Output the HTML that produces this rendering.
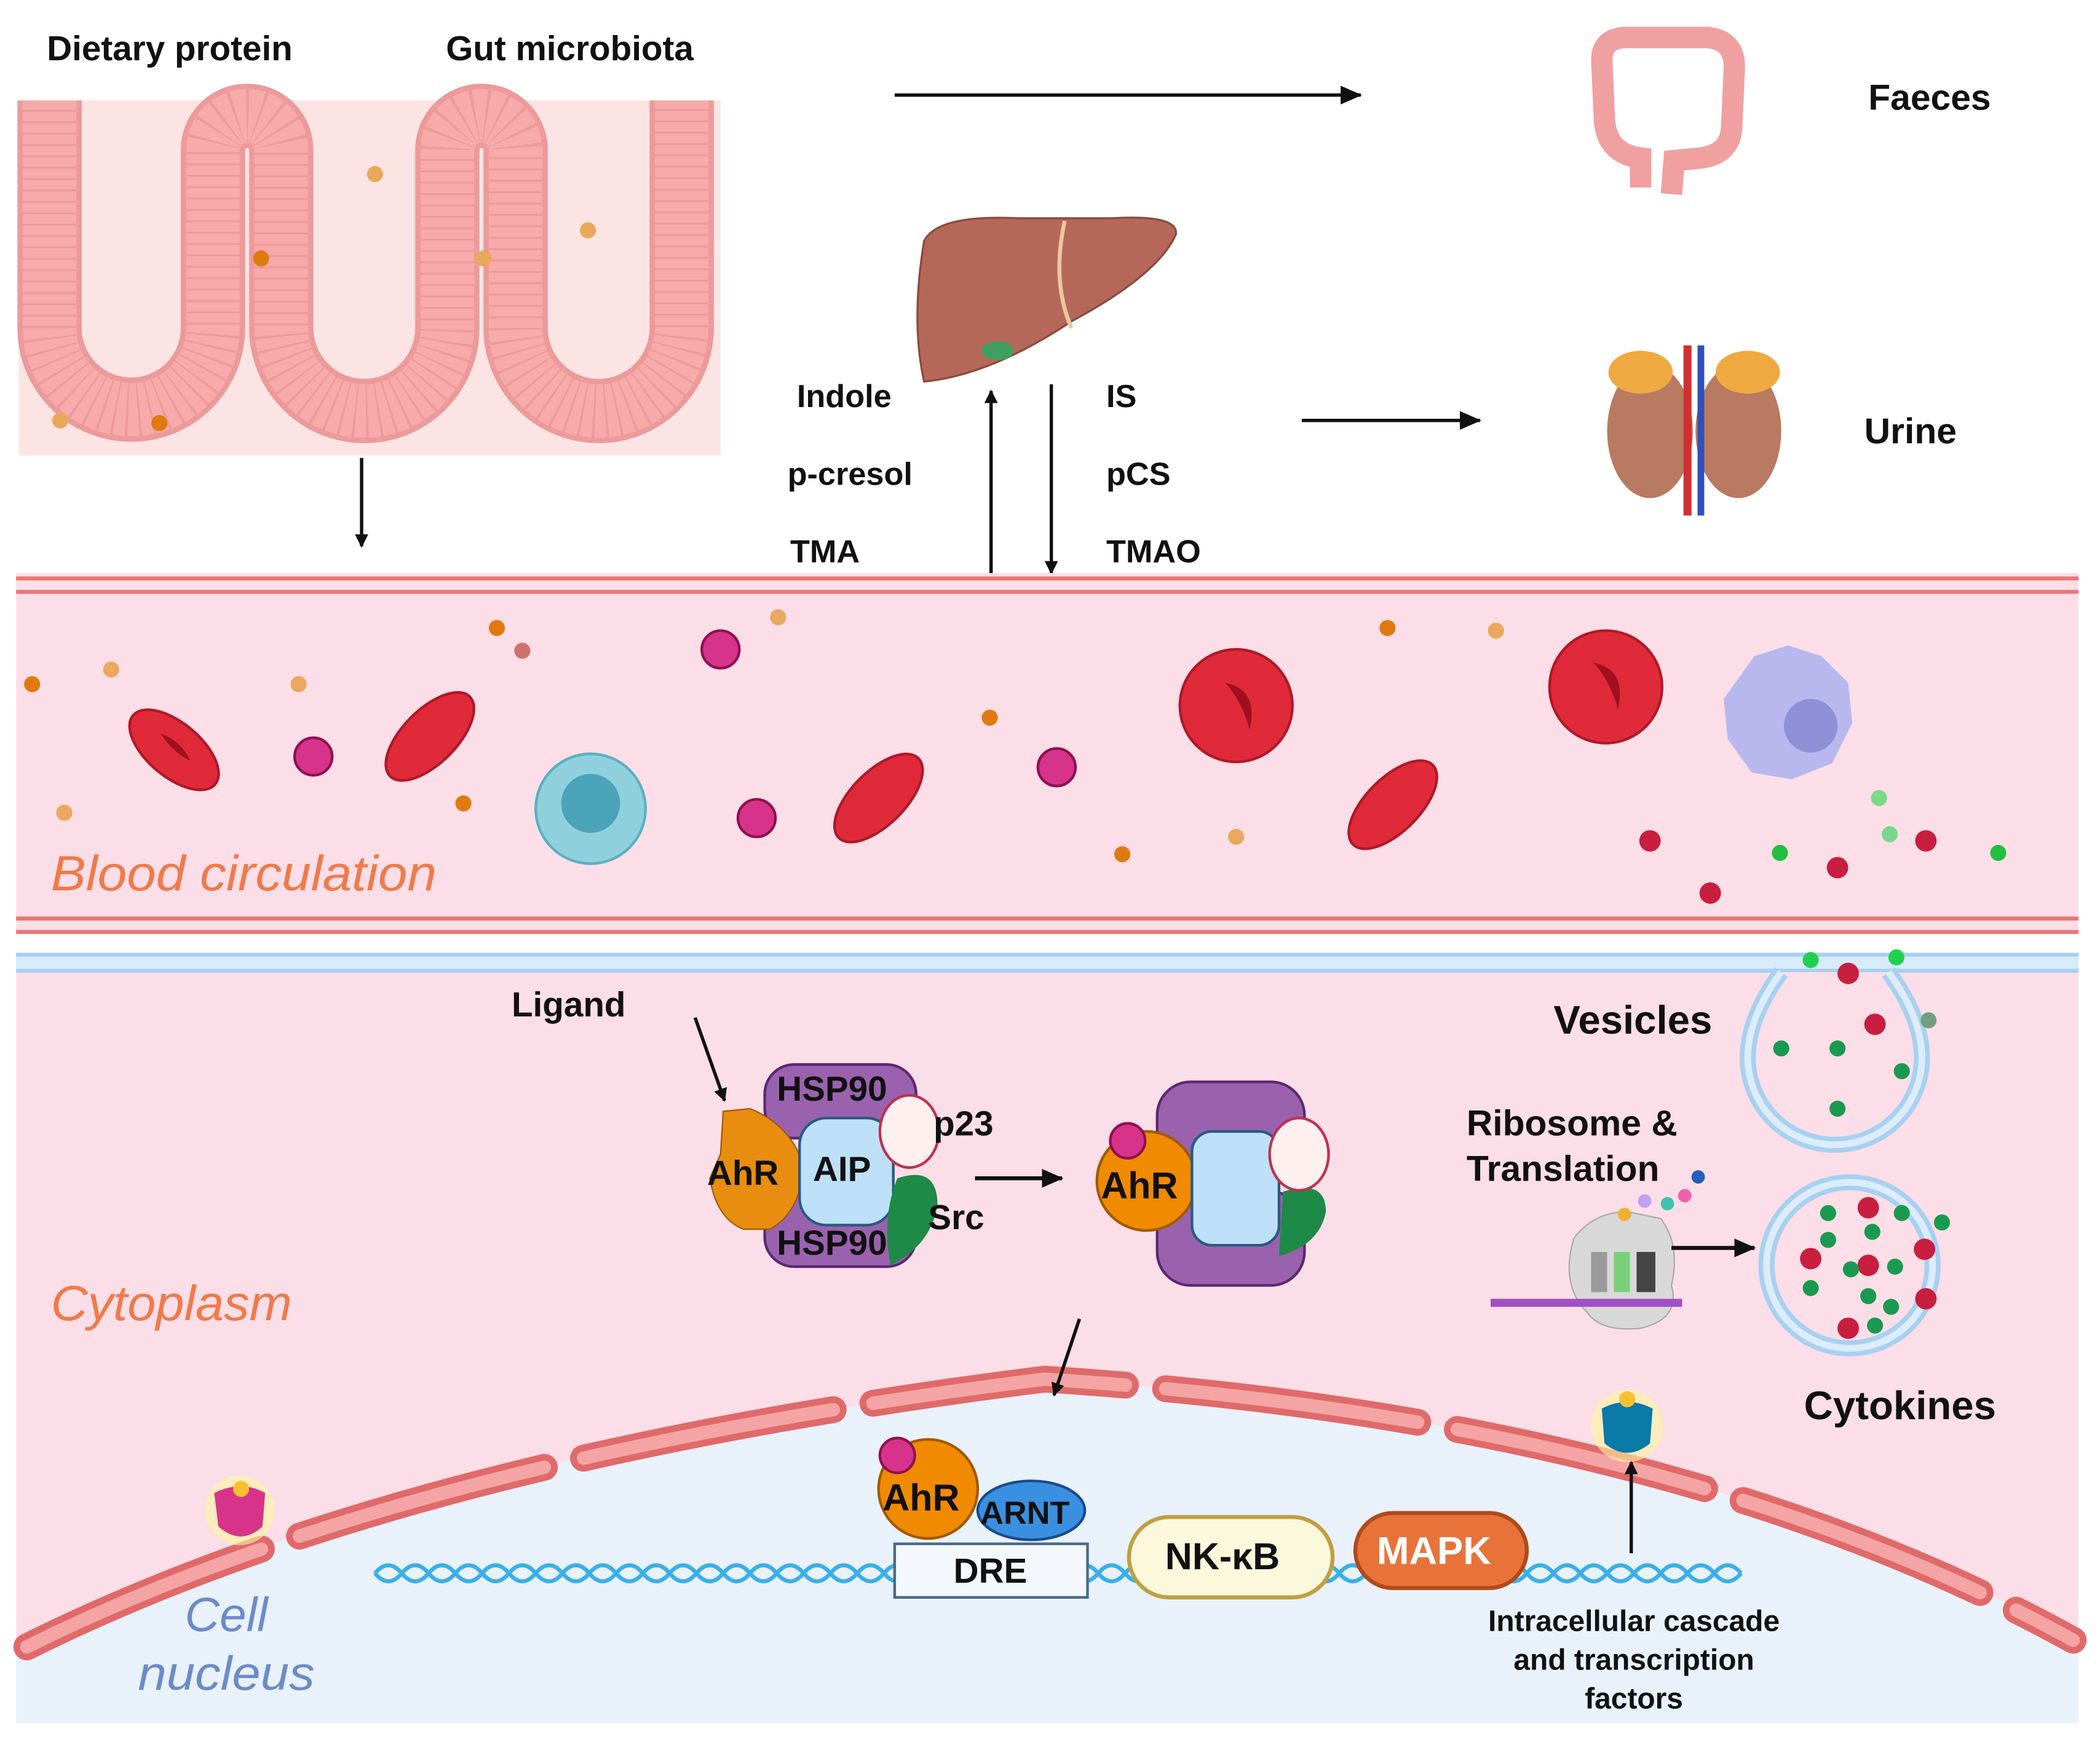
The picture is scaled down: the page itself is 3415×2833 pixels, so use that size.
<!DOCTYPE html>
<html><head><meta charset="utf-8"><style>
html,body{margin:0;padding:0;background:#fff}
svg{display:block}
text{font-family:"Liberation Sans",sans-serif}
.b{font-weight:bold;fill:#111}
</style></head><body>
<svg width="3415" height="2833" viewBox="0 0 1568 1301" preserveAspectRatio="none" xmlns="http://www.w3.org/2000/svg">
<defs>
<marker id="ar" markerWidth="10" markerHeight="10" refX="9" refY="5" orient="auto" markerUnits="userSpaceOnUse"><path d="M0,0 L10,5 L0,10 z" fill="#111"/></marker>
<marker id="ar2" markerWidth="16" markerHeight="14" refX="15" refY="7" orient="auto" markerUnits="userSpaceOnUse"><path d="M0,0 L16,7 L0,14 z" fill="#111"/></marker>
</defs>
<rect width="1568" height="1301" fill="#fff"/>
<!-- gut -->
<rect x="14" y="75" width="524" height="265" fill="#fde4e4"/>
<path d="M37,75 L37,245 A61,61 0 0 0 159,245 L159,112 A25,25 0 0 1 210,112 L210,245 A62,62 0 0 0 334,245 L334,112 A25,25 0 0 1 385,112 L385,245 A62,62 0 0 0 509,245 L509,75" fill="none" stroke="#ec9a9a" stroke-width="48"/>
<path d="M37,75 L37,245 A61,61 0 0 0 159,245 L159,112 A25,25 0 0 1 210,112 L210,245 A62,62 0 0 0 334,245 L334,112 A25,25 0 0 1 385,112 L385,245 A62,62 0 0 0 509,245 L509,75" fill="none" stroke="#f8aaaa" stroke-width="40" stroke-dasharray="7 1.5"/>
<g fill="#e9a95a"><circle cx="280" cy="130" r="6"/><circle cx="361" cy="193" r="6"/><circle cx="439" cy="172" r="6"/><circle cx="45" cy="314" r="6"/></g>
<g fill="#e07a10"><circle cx="195" cy="193" r="6"/><circle cx="119" cy="316" r="6"/></g>
<text x="35" y="45" class="b" font-size="26">Dietary protein</text>
<text x="333" y="45" class="b" font-size="26">Gut microbiota</text>
<line x1="668" y1="71" x2="1016" y2="71" stroke="#111" stroke-width="2.5" marker-end="url(#ar2)"/>
<!-- colon -->
<path d="M1225,140 L1225,118 Q1200,115 1198,90 L1196,45 Q1196,28 1215,28 L1275,28 Q1295,30 1295,50 L1293,95 Q1292,115 1270,118 L1250,120 L1248,145" fill="none" stroke="#f0a0a0" stroke-width="16"/>
<text x="1395" y="82" class="b" font-size="27">Faeces</text>
<!-- liver -->
<path d="M690,180 Q700,160 760,163 L830,163 Q880,160 878,175 Q865,205 800,240 Q740,280 690,285 Q680,240 690,180z" fill="#b5685a" stroke="#8a4a40" stroke-width="1.5"/>
<path d="M795,165 Q785,210 800,245" fill="none" stroke="#e8c8a0" stroke-width="3"/>
<ellipse cx="745" cy="262" rx="12" ry="7" fill="#3ea060"/>
<text x="595" y="304" class="b" font-size="24">Indole</text><text x="588" y="362" class="b" font-size="24">p-cresol</text><text x="590" y="420" class="b" font-size="24">TMA</text>
<text x="826" y="304" class="b" font-size="24">IS</text><text x="826" y="362" class="b" font-size="24">pCS</text><text x="826" y="420" class="b" font-size="24">TMAO</text>
<line x1="740" y1="428" x2="740" y2="292" stroke="#111" stroke-width="2.5" marker-end="url(#ar)"/>
<line x1="785" y1="287" x2="785" y2="428" stroke="#111" stroke-width="2.5" marker-end="url(#ar)"/>
<line x1="270" y1="342" x2="270" y2="408" stroke="#111" stroke-width="2.5" marker-end="url(#ar)"/>
<line x1="972" y1="314" x2="1105" y2="314" stroke="#111" stroke-width="2.5" marker-end="url(#ar2)"/>
<!-- kidneys -->
<ellipse cx="1232" cy="322" rx="32" ry="50" fill="#b87a60"/>
<ellipse cx="1298" cy="322" rx="32" ry="50" fill="#b87a60"/>
<ellipse cx="1225" cy="278" rx="24" ry="16" fill="#f0a840"/><ellipse cx="1305" cy="278" rx="24" ry="16" fill="#f0a840"/>
<line x1="1260" y1="258" x2="1260" y2="385" stroke="#d03030" stroke-width="6"/><line x1="1270" y1="258" x2="1270" y2="385" stroke="#3050c0" stroke-width="5"/>
<text x="1392" y="331" class="b" font-size="27">Urine</text>
<!-- blood vessel -->
<rect x="12" y="428" width="1540" height="269" fill="#fbdee7"/>
<g stroke="#e87878" stroke-width="3"><line x1="12" y1="432" x2="1552" y2="432"/><line x1="12" y1="442" x2="1552" y2="442"/><line x1="12" y1="686" x2="1552" y2="686"/><line x1="12" y1="696" x2="1552" y2="696"/></g>
<g fill="#e02a3a" stroke="#b01828" stroke-width="2">
<ellipse cx="130" cy="560" rx="40" ry="20" transform="rotate(40 130 560)"/>
<ellipse cx="321" cy="550" rx="42" ry="20" transform="rotate(-45 321 550)"/>
<ellipse cx="656" cy="596" rx="42" ry="20" transform="rotate(-45 656 596)"/>
<ellipse cx="1040" cy="601" rx="42" ry="20" transform="rotate(-45 1040 601)"/>
<circle cx="923" cy="527" r="42"/><circle cx="1199" cy="513" r="42"/></g>
<g fill="#a01020"><path d="M120,548 q15,5 22,20 q-12,-5 -22,-20z"/><path d="M915,510 q25,5 18,35 q-5,-20 -18,-35z"/><path d="M1190,495 q25,5 18,35 q-5,-20 -18,-35z"/></g>
<circle cx="441" cy="604" r="41" fill="#8fd0dc" stroke="#5ab0c0" stroke-width="2"/><circle cx="441" cy="600" r="22" fill="#4aa3b8"/>
<path d="M1310,490 l25,-8 l25,8 l20,20 l3,30 l-15,30 l-30,12 l-30,-5 l-18,-25 l-3,-30z" fill="#b8b8ee"/><circle cx="1352" cy="542" r="20" fill="#8f8fd8"/>
<g fill="#d8338a" stroke="#901050" stroke-width="2"><circle cx="538" cy="485" r="14"/><circle cx="234" cy="565" r="14"/><circle cx="565" cy="611" r="14"/><circle cx="789" cy="573" r="14"/><circle cx="519" cy="731" r="14"/></g>
<g fill="#e07a10"><circle cx="371" cy="469" r="6"/><circle cx="24" cy="511" r="6"/><circle cx="346" cy="600" r="6"/><circle cx="739" cy="536" r="6"/><circle cx="838" cy="638" r="6"/><circle cx="1036" cy="469" r="6"/><circle cx="104" cy="772" r="6"/><circle cx="264" cy="814" r="6"/><circle cx="119" cy="897" r="6"/></g>
<g fill="#eaa860"><circle cx="581" cy="461" r="6"/><circle cx="83" cy="500" r="6"/><circle cx="223" cy="511" r="6"/><circle cx="48" cy="607" r="6"/><circle cx="923" cy="625" r="6"/><circle cx="1117" cy="471" r="6"/><circle cx="223" cy="758" r="6"/></g>
<circle cx="390" cy="486" r="6" fill="#d07070"/>
<g fill="#c81e40"><circle cx="1232" cy="628" r="8"/><circle cx="1277" cy="667" r="8"/><circle cx="1372" cy="648" r="8"/><circle cx="1438" cy="628" r="8"/></g>
<g fill="#22c040"><circle cx="1329" cy="637" r="6"/><circle cx="1492" cy="637" r="6"/><circle cx="1403" cy="596" r="6" fill="#7ad88a"/><circle cx="1411" cy="623" r="6" fill="#7ad88a"/></g>
<text x="38" y="665" font-size="37" font-style="italic" fill="#f07a4a" textLength="288" lengthAdjust="spacingAndGlyphs">Blood circulation</text>
<!-- cytoplasm -->
<rect x="12" y="712" width="1540" height="575" fill="#fbdee7"/>
<rect x="12" y="712" width="1540" height="14" fill="#d8ebfb"/>
<line x1="12" y1="713" x2="1552" y2="713" stroke="#a8d0f0" stroke-width="3"/><line x1="12" y1="725" x2="1552" y2="725" stroke="#a8d0f0" stroke-width="3"/>
<!-- vesicles -->
<path d="M1330,726 Q1305,760 1305,790 A65,65 0 0 0 1435,790 Q1435,760 1410,726" fill="#fbdee7" stroke="#a8d0f0" stroke-width="12"/>
<path d="M1330,726 Q1305,760 1305,790 A65,65 0 0 0 1435,790 Q1435,760 1410,726" fill="none" stroke="#dcecfa" stroke-width="5"/>
<circle cx="1381" cy="945" r="62" fill="#fbdee7" stroke="#a8d0f0" stroke-width="12"/><circle cx="1381" cy="945" r="62" fill="none" stroke="#dcecfa" stroke-width="5"/>
<g fill="#c81e40"><circle cx="1380" cy="727" r="8"/><circle cx="1400" cy="765" r="8"/><circle cx="1395" cy="902" r="8"/><circle cx="1352" cy="940" r="8"/><circle cx="1395" cy="945" r="8"/><circle cx="1437" cy="933" r="8"/><circle cx="1438" cy="970" r="8"/><circle cx="1380" cy="992" r="8"/></g>
<g fill="#1a9a50"><circle cx="1352" cy="717" r="6" fill="#22d050"/><circle cx="1416" cy="715" r="6" fill="#22d050"/><circle cx="1330" cy="783" r="6"/><circle cx="1372" cy="783" r="6"/><circle cx="1420" cy="800" r="6"/><circle cx="1372" cy="828" r="6"/><circle cx="1440" cy="762" r="6" fill="#70a080"/>
<circle cx="1365" cy="906" r="6"/><circle cx="1420" cy="906" r="6"/><circle cx="1450" cy="913" r="6"/><circle cx="1398" cy="920" r="6"/><circle cx="1365" cy="926" r="6"/><circle cx="1382" cy="948" r="6"/><circle cx="1415" cy="946" r="6"/><circle cx="1352" cy="962" r="6"/><circle cx="1395" cy="968" r="6"/><circle cx="1412" cy="976" r="6"/><circle cx="1400" cy="990" r="6"/></g>
<text x="1160" y="772" class="b" font-size="30">Vesicles</text>
<text x="1095" y="848" class="b" font-size="27">Ribosome &amp;</text>
<text x="1095" y="882" class="b" font-size="27">Translation</text>
<text x="1347" y="1060" class="b" font-size="30">Cytokines</text>
<!-- ribosome -->
<path d="M1175,925 Q1190,905 1215,905 L1240,910 Q1255,930 1248,960 Q1255,985 1225,992 Q1195,995 1185,980 Q1165,960 1175,925z" fill="#d8d8d8" stroke="#aaa"/>
<rect x="1188" y="935" width="12" height="30" fill="#9a9a9a"/><rect x="1205" y="935" width="12" height="30" fill="#7ad07a"/><rect x="1222" y="935" width="14" height="30" fill="#444"/>
<rect x="1113" y="970" width="143" height="6" fill="#a050c0"/>
<circle cx="1213" cy="907" r="5" fill="#f0b030"/><circle cx="1228" cy="897" r="5" fill="#c0a0f0"/><circle cx="1245" cy="899" r="5" fill="#40c0b0"/><circle cx="1258" cy="893" r="5" fill="#f060b0"/><circle cx="1268" cy="879" r="5" fill="#2060c0"/>
<line x1="1248" y1="932" x2="1310" y2="932" stroke="#111" stroke-width="3" marker-end="url(#ar2)"/>
<text x="382" y="759" class="b" font-size="26">Ligand</text>
<line x1="519" y1="760" x2="541" y2="822" stroke="#111" stroke-width="2.5" marker-end="url(#ar)"/>
<!-- complex 1 -->
<rect x="571" y="795" width="113" height="55" rx="22" fill="#9a62ae" stroke="#5a2a70" stroke-width="2"/>
<rect x="571" y="892" width="113" height="54" rx="22" fill="#9a62ae" stroke="#5a2a70" stroke-width="2"/>
<path d="M540,830 L560,828 Q590,840 600,870 Q598,905 575,918 L555,918 Q535,910 530,880 L538,862z" fill="#e88d10" stroke="#a05a00"/>
<rect x="597" y="835" width="70" height="80" rx="20" fill="#bde0f8" stroke="#2a5a80" stroke-width="2"/>
<path d="M670,880 Q700,870 700,900 Q695,930 665,945 Q658,910 670,880z" fill="#1e8a48"/>
<ellipse cx="679" cy="845" rx="22" ry="27" fill="#fff0f0" stroke="#c03050" stroke-width="2"/>
<text x="580" y="822" class="b" font-size="26">HSP90</text><text x="580" y="937" class="b" font-size="26">HSP90</text><text x="528" y="885" class="b" font-size="26">AhR</text><text x="607" y="882" class="b" font-size="26">AIP</text><text x="697" y="848" class="b" font-size="26">p23</text><text x="693" y="918" class="b" font-size="26">Src</text>
<line x1="728" y1="880" x2="793" y2="880" stroke="#111" stroke-width="3" marker-end="url(#ar2)"/>
<!-- complex 2 -->
<rect x="864" y="808" width="110" height="70" rx="25" fill="#9a62ae" stroke="#5a2a70" stroke-width="2"/>
<rect x="864" y="890" width="110" height="70" rx="25" fill="#9a62ae" stroke="#5a2a70" stroke-width="2"/>
<circle cx="856" cy="882" r="37" fill="#f08a00" stroke="#a05a00" stroke-width="2"/>
<rect x="890" y="845" width="65" height="85" rx="15" fill="#bde0f8" stroke="#2a5a80" stroke-width="2"/>
<path d="M958,890 Q990,880 990,905 Q985,930 955,938z" fill="#1e8a48"/>
<ellipse cx="970" cy="862" rx="22" ry="27" fill="#fff0f0" stroke="#c03050" stroke-width="2"/>
<circle cx="842" cy="852" r="13" fill="#d8338a" stroke="#901050" stroke-width="2"/>
<text x="822" y="895" class="b" font-size="28">AhR</text>
<text x="38" y="986" font-size="37" font-style="italic" fill="#f07a4a" textLength="180" lengthAdjust="spacingAndGlyphs">Cytoplasm</text>
<!-- nucleus -->
<path d="M12,1230 Q300,1090 780,1030 Q1250,1060 1552,1225 L1552,1287 L12,1287z" fill="#e9f1fb"/>
<path d="M20,1230 Q300,1090 780,1030 Q1250,1060 1548,1225" fill="none" stroke="#e06a6a" stroke-width="20" stroke-dasharray="190 30" stroke-linecap="round"/>
<path d="M20,1230 Q300,1090 780,1030 Q1250,1060 1548,1225" fill="none" stroke="#f4a4a4" stroke-width="10" stroke-dasharray="190 30" stroke-linecap="round"/>
<rect x="12" y="1287" width="1540" height="14" fill="#fff"/>
<line x1="806" y1="985" x2="787" y2="1042" stroke="#111" stroke-width="2.5" marker-end="url(#ar)"/>
<!-- receptors -->
<circle cx="179" cy="1128" r="26" fill="#fff5a0" opacity="0.6"/><path d="M160,1115 Q180,1105 198,1115 L196,1140 Q180,1155 163,1140z" fill="#d8338a"/><circle cx="180" cy="1112" r="6" fill="#f8c030"/>
<circle cx="1215" cy="1065" r="27" fill="#fff5a0" opacity="0.6"/><path d="M1196,1052 Q1215,1042 1234,1052 L1232,1078 Q1215,1092 1198,1078z" fill="#0a7aa8"/><circle cx="1215" cy="1045" r="6" fill="#f8c030"/>
<line x1="1218" y1="1160" x2="1218" y2="1092" stroke="#111" stroke-width="2.5" marker-end="url(#ar)"/>
<!-- DNA -->
<path d="M280,1175 q10,-12 20,0 t20,0 t20,0 t20,0 t20,0 t20,0 t20,0 t20,0 t20,0 t20,0 t20,0 t20,0 t20,0 t20,0 t20,0 t20,0 t20,0 t20,0 t20,0 t20,0 t20,0 t20,0 t20,0 t20,0 t20,0 t20,0 t20,0 t20,0 t20,0 t20,0 t20,0 t20,0 t20,0 t20,0 t20,0 t20,0 t20,0 t20,0 t20,0 t20,0 t20,0 t20,0 t20,0 t20,0 t20,0 t20,0 t20,0 t20,0 t20,0 t20,0 t20,0" fill="none" stroke="#3ab0e8" stroke-width="3"/>
<path d="M280,1175 q10,12 20,0 t20,0 t20,0 t20,0 t20,0 t20,0 t20,0 t20,0 t20,0 t20,0 t20,0 t20,0 t20,0 t20,0 t20,0 t20,0 t20,0 t20,0 t20,0 t20,0 t20,0 t20,0 t20,0 t20,0 t20,0 t20,0 t20,0 t20,0 t20,0 t20,0 t20,0 t20,0 t20,0 t20,0 t20,0 t20,0 t20,0 t20,0 t20,0 t20,0 t20,0 t20,0 t20,0 t20,0 t20,0 t20,0 t20,0 t20,0 t20,0 t20,0 t20,0" fill="none" stroke="#3ab0e8" stroke-width="3"/>
<rect x="668" y="1153" width="144" height="40" fill="#f4f8fc" stroke="#4a6a8a" stroke-width="2"/>
<text x="712" y="1182" class="b" font-size="26">DRE</text>
<circle cx="693" cy="1112" r="37" fill="#f08a00" stroke="#a05a00" stroke-width="2"/>
<ellipse cx="770" cy="1128" rx="40" ry="22" fill="#3a90e0" stroke="#1a4a90" stroke-width="2"/>
<circle cx="670" cy="1087" r="13" fill="#d8338a" stroke="#901050" stroke-width="2"/>
<text x="659" y="1128" class="b" font-size="28">AhR</text>
<text x="732" y="1138" class="b" font-size="24">ARNT</text>
<rect x="843" y="1133" width="152" height="60" rx="30" fill="#fbf8dc" stroke="#c0a040" stroke-width="3"/>
<text x="870" y="1172" class="b" font-size="28">NK-κB</text>
<rect x="1012" y="1130" width="128" height="56" rx="28" fill="#e8733a" stroke="#b04a1a" stroke-width="3"/>
<text x="1028" y="1168" font-size="29" font-weight="bold" fill="#fff">MAPK</text>
<text x="1220" y="1218" class="b" font-size="22" text-anchor="middle">Intracellular cascade</text><text x="1220" y="1247" class="b" font-size="22" text-anchor="middle">and transcription</text><text x="1220" y="1276" class="b" font-size="22" text-anchor="middle">factors</text>
<text x="138" y="1218" font-size="36" font-style="italic" fill="#6b8cc7">Cell</text>
<text x="103" y="1262" font-size="36" font-style="italic" fill="#6b8cc7" textLength="132" lengthAdjust="spacingAndGlyphs">nucleus</text>
</svg>
</body></html>
